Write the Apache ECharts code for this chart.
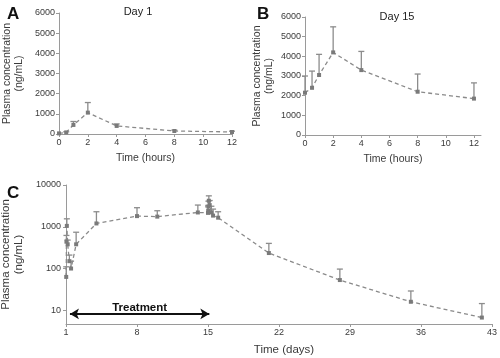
<!DOCTYPE html>
<html>
<head>
<meta charset="utf-8">
<script src="https://cdn.jsdelivr.net/npm/echarts@6/dist/echarts.min.js"></script>
<style>
html,body{margin:0;padding:0;background:#fff;}
#chart{width:500px;height:358px;}
</style>
</head>
<body>
<div id="chart"></div>
<script>
// Panel A: Day 1 (hours)
const hoursA = [0, 0.5, 1, 2, 4, 8, 12];
const meanA  = [30, 80, 450, 1060, 400, 150, 100];
const upperA = [30, 110, 620, 1560, 500, 190, 140];

// Panel B: Day 15 (hours)
const hoursB = [0, 0.5, 1, 2, 4, 8, 12];
const meanB  = [2150, 2400, 3050, 4200, 3300, 2200, 1850];
const upperB = [3000, 3250, 4100, 5500, 4250, 3100, 2650];

// Panel C: full course (days)
const daysC  = [1.021, 1.042, 1.083, 1.167, 1.333, 1.5, 2, 4, 8, 10, 14, 15, 15.021, 15.042, 15.083, 15.167, 15.333, 15.5, 16, 21, 28, 35, 42];
const meanC  = [63, 440, 1050, 380, 150, 100, 380, 1200, 1800, 1750, 2200, 2150, 2400, 3050, 4200, 3300, 2200, 1850, 1650, 235, 53, 16, 6.7];
const upperC = [110, 620, 1550, 480, 210, 150, 740, 2290, 2860, 2420, 3310, 3000, 3250, 4100, 5500, 4250, 3100, 2650, 2290, 400, 97, 29, 14.5];

const hourTicks = [0, 2, 4, 6, 8, 10, 12];
const dayTicks = [1, 8, 15, 22, 29, 36, 43];
const treatment = {start: 1.39, end: 15.13, level: 8.2, label: 'Treatment'};

const FONT = '"Liberation Sans", Arial, sans-serif';
const AXIS_COLOR = '#9a9a9a';
const TEXT_COLOR = '#3a3a3a';
const LINE_COLOR = '#8a8a8a';
const MARK_COLOR = '#7a7a7a';
const plain = v => String(v);

function zip(x, m, u) { return x.map((v, i) => [v, m[i], u[i]]); }

function errRender(params, api) {
  const x = api.value(0), m = api.value(1), u = api.value(2);
  const p0 = api.coord([x, m]);
  const p1 = api.coord([x, u]);
  if (p1[1] >= p0[1] - 0.5) return null;
  const w = 3;
  const st = {stroke: '#8c8c8c', lineWidth: 1.3};
  return {type: 'group', children: [
    {type: 'line', shape: {x1: p0[0], y1: p0[1], x2: p1[0], y2: p1[1]}, style: st},
    {type: 'line', shape: {x1: p1[0] - w, y1: p1[1], x2: p1[0] + w, y2: p1[1]}, style: st}
  ]};
}

function valueXAxis(idx, min, max, ticks, name, gap) {
  return {
    gridIndex: idx, type: 'value', min: min, max: max,
    name: name, nameLocation: 'middle', nameGap: gap,
    nameTextStyle: {fontFamily: FONT, fontSize: 10.5, color: TEXT_COLOR},
    axisLine: {show: true, lineStyle: {color: AXIS_COLOR, width: 1}},
    axisTick: {show: true, length: 3, lineStyle: {color: AXIS_COLOR}, customValues: ticks},
    axisLabel: {fontFamily: FONT, fontSize: 9, color: TEXT_COLOR, margin: 4, customValues: ticks, formatter: plain},
    splitLine: {show: false}
  };
}

function linYAxis(idx, gap) {
  return {
    gridIndex: idx, type: 'value', min: 0, max: 6000, interval: 1000,
    name: 'Plasma concentration\n(ng/mL)', nameLocation: 'middle', nameGap: gap,
    nameTextStyle: {fontFamily: FONT, fontSize: 10.5, color: TEXT_COLOR, lineHeight: 12},
    axisLine: {show: true, lineStyle: {color: AXIS_COLOR, width: 1}},
    axisTick: {show: true, length: 3, lineStyle: {color: AXIS_COLOR}},
    axisLabel: {fontFamily: FONT, fontSize: 9, color: TEXT_COLOR, margin: 4, formatter: plain},
    splitLine: {show: false}
  };
}

function lineSeries(idx, x, m, extra) {
  return Object.assign({
    type: 'line', xAxisIndex: idx, yAxisIndex: idx,
    data: x.map((v, i) => [v, m[i]]),
    symbol: 'rect', symbolSize: 4,
    itemStyle: {color: MARK_COLOR},
    lineStyle: {color: LINE_COLOR, width: 1.3, type: [4, 3]},
    z: 3
  }, extra || {});
}

function errSeries(idx, x, m, u) {
  return {
    type: 'custom', xAxisIndex: idx, yAxisIndex: idx,
    data: zip(x, m, u), encode: {x: 0, y: [1, 2]},
    renderItem: errRender, z: 2
  };
}

const chart = echarts.init(document.getElementById('chart'), null, {renderer: 'canvas'});
chart.setOption({
  animation: false,
  backgroundColor: '#ffffff',
  title: [
    {text: 'A', left: 2, top: 1, textStyle: {fontFamily: FONT, fontSize: 17, fontWeight: 'bold', color: '#111'}},
    {text: 'B', left: 252, top: 1, textStyle: {fontFamily: FONT, fontSize: 17, fontWeight: 'bold', color: '#111'}},
    {text: 'C', left: 2, top: 180, textStyle: {fontFamily: FONT, fontSize: 17, fontWeight: 'bold', color: '#111'}},
    {text: 'Day 1', left: 133, top: 1, textAlign: 'center', textStyle: {fontFamily: FONT, fontSize: 11, fontWeight: 'normal', color: '#222'}},
    {text: 'Day 15', left: 392, top: 6, textAlign: 'center', textStyle: {fontFamily: FONT, fontSize: 11, fontWeight: 'normal', color: '#222'}}
  ],
  grid: [
    {left: 59, top: 13, width: 173, height: 121, containLabel: false, outerBoundsMode: 'none'},
    {left: 305, top: 17, width: 176, height: 118, containLabel: false, outerBoundsMode: 'none'},
    {left: 66, top: 185, width: 426, height: 139, containLabel: false, outerBoundsMode: 'none'}
  ],
  xAxis: [
    valueXAxis(0, 0, 12, hourTicks, 'Time (hours)', 19),
    valueXAxis(1, 0, 12.5, hourTicks, 'Time (hours)', 19),
    Object.assign(valueXAxis(2, 1, 43, dayTicks, 'Time (days)', 20), {
      nameTextStyle: {fontFamily: FONT, fontSize: 11.5, color: TEXT_COLOR, padding: [0, 0, 0, 10]}
    })
  ],
  yAxis: [
    linYAxis(0, 34),
    linYAxis(1, 30),
    {
      gridIndex: 2, type: 'log', logBase: 10, min: 4.7, max: 10000,
      name: 'Plasma concentration\n(ng/mL)', nameLocation: 'middle', nameGap: 39,
      nameTextStyle: {fontFamily: FONT, fontSize: 11.5, color: TEXT_COLOR, lineHeight: 13},
      axisLine: {show: true, lineStyle: {color: AXIS_COLOR, width: 1}},
      axisTick: {show: true, length: 3, lineStyle: {color: AXIS_COLOR}},
      axisLabel: {fontFamily: FONT, fontSize: 9, color: TEXT_COLOR, margin: 5, showMinLabel: false, formatter: v => String(Math.round(v))},
      splitLine: {show: false}
    }
  ],
  series: [
    errSeries(0, hoursA, meanA, upperA),
    lineSeries(0, hoursA, meanA),
    errSeries(1, hoursB, meanB, upperB),
    lineSeries(1, hoursB, meanB),
    errSeries(2, daysC, meanC, upperC),
    lineSeries(2, daysC, meanC, {
      markLine: {
        silent: true,
        symbol: ['arrow', 'arrow'],
        symbolSize: [8, 9],
        lineStyle: {color: '#111', width: 2, type: 'solid'},
        label: {show: true, position: 'middle', formatter: treatment.label, fontFamily: FONT, fontSize: 11.5, fontWeight: 'bold', color: '#111', distance: 0},
        data: [[{coord: [treatment.start, treatment.level]}, {coord: [treatment.end, treatment.level]}]]
      }
    })
  ]
});
</script>
</body>
</html>
